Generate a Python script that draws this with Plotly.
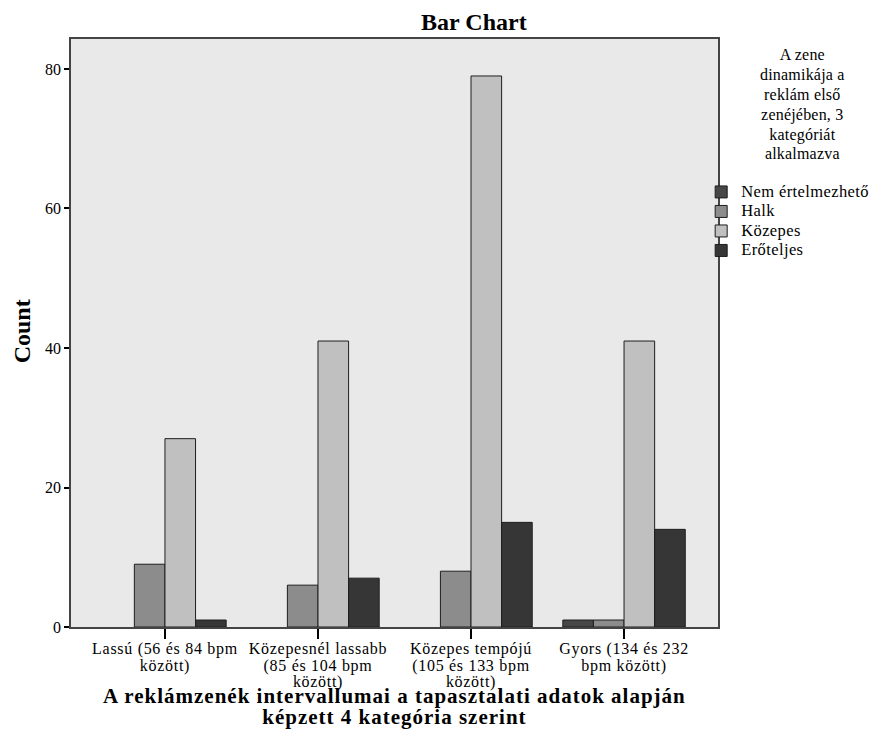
import plotly.graph_objects as go

categories = [
    ["Lassú (56 és 84 bpm", "között)"],
    ["Közepesnél lassabb", "(85 és 104 bpm", "között)"],
    ["Közepes tempójú", "(105 és 133 bpm", "között)"],
    ["Gyors (134 és 232", "bpm között)"],
]
series_names = ["Nem értelmezhető", "Halk", "Közepes", "Erőteljes"]
nem_ertelmezheto = [None, None, None, 1]
halk = [9, 6, 8, 1]
kozepes = [27, 41, 79, 41]
eroteljes = [1, 7, 15, 14]
series_values = [nem_ertelmezheto, halk, kozepes, eroteljes]
colors = ["#474747", "#8c8c8c", "#c0c0c0", "#363636"]
y_ticks = [0, 20, 40, 60, 80]
legend_title = ["A zene", "dinamikája a", "reklám első", "zenéjében, 3", "kategóriát", "alkalmazva"]

FONT = "Liberation Serif"


def styled(lines, size, spacing):
    st = f"font-size:{size}px;letter-spacing:{spacing}px"
    return "<br>".join(f"<span style='{st}'>{ln}</span>" for ln in lines)


tick_text = [styled(c, 16, 0.7) for c in categories]

fig = go.Figure()
for name, vals, col in zip(series_names, series_values, colors):
    fig.add_trace(go.Bar(
        x=list(range(len(categories))), y=vals,
        name=styled([name], 16.5, 0.4),
        marker=dict(color=col, line=dict(color="#1e1e1e", width=1)),
    ))

fig.update_layout(
    width=879, height=753,
    margin=dict(l=63, r=169, t=31, b=134, autoexpand=False),
    paper_bgcolor="white",
    plot_bgcolor="#e9e9e9",
    barmode="group",
    bargap=0.2, bargroupgap=0,
    font=dict(family=FONT, color="black", size=14),
    title=dict(text="<b>Bar Chart</b>", xref="container", yref="container",
               x=0.530, xanchor="center", y=0.993, yanchor="top",
               font=dict(family=FONT, size=24, color="black")),
    showlegend=True,
    legend=dict(x=0.974, xanchor="left", y=0.765, yanchor="top",
                font=dict(family=FONT, size=12.7, color="black"),
                bgcolor="rgba(0,0,0,0)", tracegroupgap=0, itemwidth=30,
                traceorder="normal"),
    xaxis=dict(
        tickmode="array", tickvals=list(range(len(categories))), ticktext=tick_text,
        range=[-0.614, 3.614], ticks="outside", ticklen=10, tickcolor="black", tickwidth=1.5,
        showline=True, linecolor="#444", linewidth=1.5, mirror=True,
        showgrid=False, zeroline=False, tickfont=dict(family=FONT, size=12.8),
        automargin=False,
    ),
    yaxis=dict(
        range=[0, 84.3], tickvals=y_ticks, ticks="outside", ticklen=5, tickcolor="black",
        tickwidth=2, showline=True, linecolor="#444", linewidth=1.5, mirror=True,
        showgrid=False, zeroline=False, tickfont=dict(family=FONT, size=16),
        automargin=False,
    ),
    annotations=[
        dict(text="<b>Count</b>", x=-0.0765, y=0.502, xref="paper", yref="paper",
             textangle=-90, showarrow=False, xanchor="center", yanchor="middle",
             font=dict(family=FONT, size=24)),
        dict(text="<b>" + styled(["A reklámzenék intervallumai a tapasztalati adatok alapján",
                                   "képzett 4 kategória szerint"], 21, 1.0) + "</b>",
             x=0.5, y=-0.135, xref="paper", yref="paper", showarrow=False,
             font=dict(family=FONT, size=16), align="center", xanchor="center", yanchor="middle"),
        dict(text=styled(legend_title, 16, 0.2),
             x=1.131, y=0.991, xref="paper", yref="paper", showarrow=False,
             font=dict(family=FONT, size=15.3), align="center", xanchor="center", yanchor="top"),
    ],
)
fig.write_html("out.html")
